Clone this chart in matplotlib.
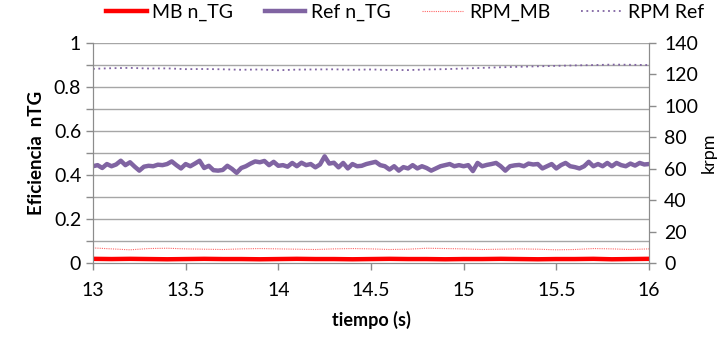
import numpy as np
import matplotlib
matplotlib.use("Agg")
import matplotlib.pyplot as plt
from matplotlib.ticker import MultipleLocator

plt.rcParams['font.family'] = ['Lato', 'DejaVu Sans']

# Ref n_TG, sampled every 0.025 s from 13 to 16 s
t_ref = [13 + i * 0.025 for i in range(121)]
ref_ntg = [0.440, 0.445, 0.432, 0.450, 0.440, 0.448, 0.465, 0.445, 0.458, 0.438,
           0.420, 0.438, 0.442, 0.440, 0.447, 0.445, 0.450, 0.462, 0.445, 0.430,
           0.450, 0.440, 0.452, 0.465, 0.432, 0.442, 0.422, 0.420, 0.423, 0.442,
           0.428, 0.410, 0.432, 0.440, 0.452, 0.462, 0.458, 0.464, 0.445, 0.460,
           0.442, 0.445, 0.438, 0.455, 0.440, 0.456, 0.445, 0.450, 0.435, 0.448,
           0.485, 0.452, 0.456, 0.435, 0.455, 0.430, 0.450, 0.440, 0.442, 0.450,
           0.455, 0.460, 0.445, 0.440, 0.425, 0.440, 0.420, 0.436, 0.430, 0.445,
           0.430, 0.440, 0.432, 0.420, 0.430, 0.440, 0.445, 0.450, 0.440, 0.445,
           0.440, 0.445, 0.418, 0.455, 0.440, 0.446, 0.450, 0.455, 0.440, 0.420,
           0.440, 0.444, 0.446, 0.440, 0.452, 0.448, 0.450, 0.430, 0.440, 0.450,
           0.430, 0.445, 0.455, 0.440, 0.436, 0.430, 0.440, 0.460, 0.440, 0.450,
           0.440, 0.455, 0.440, 0.455, 0.445, 0.440, 0.452, 0.443, 0.455, 0.448,
           0.450]

# Slower series, sampled every 0.1 s
t_slow = [13 + i * 0.1 for i in range(31)]
mb_ntg = [0.019, 0.018, 0.019, 0.018, 0.017, 0.018, 0.019, 0.018, 0.018, 0.017,
          0.018, 0.019, 0.018, 0.018, 0.017, 0.018, 0.019, 0.018, 0.018, 0.017,
          0.018, 0.018, 0.019, 0.018, 0.017, 0.018, 0.018, 0.019, 0.017, 0.018,
          0.019]
rpm_mb = [9.6, 9.0, 8.4, 9.2, 9.4, 9.0, 8.8, 8.6, 9.0, 9.2,
          9.0, 8.8, 8.6, 9.0, 9.2, 9.0, 8.6, 8.8, 9.4, 9.2,
          9.0, 8.6, 8.8, 9.0, 8.8, 8.4, 8.6, 9.2, 9.0, 8.6,
          9.0]
rpm_ref = [123.6, 124.0, 124.2, 123.8, 123.9, 123.4, 123.5, 123.3, 123.0, 123.2,
           122.7, 123.1, 123.2, 123.3, 123.0, 123.2, 122.9, 122.8, 123.2, 123.4,
           123.8, 124.2, 124.6, 124.9, 125.2, 125.5, 125.8, 126.0, 126.3, 126.2,
           126.0]

fig = plt.figure(figsize=(7.23, 3.41), dpi=100)
ax = fig.add_axes([0.1286, 0.2287, 0.769, 0.645])
ax2 = ax.twinx()

purple = '#8064a2'
ax.plot(t_slow, mb_ntg, color='#ff0000', lw=3.2, label='MB n_TG', zorder=3)
ax.plot(t_ref, ref_ntg, color=purple, lw=3.2, label='Ref n_TG', zorder=3)
ax2.plot(t_slow, rpm_mb, color='#ff6666', lw=0.8, ls=(0, (1, 1)), label='RPM_MB')
ax2.plot(t_slow, rpm_ref, color=purple, lw=1.3, ls=(0, (1, 2)), label='RPM Ref')

ax.set_xlim(13, 16)
ax.set_ylim(0, 1)
ax2.set_ylim(0, 140)
ax.yaxis.set_minor_locator(MultipleLocator(0.1))
ax2.yaxis.set_major_locator(MultipleLocator(20))
ax.set_xticks([13, 13.5, 14, 14.5, 15, 15.5, 16])
ax.set_xticklabels(['13', '13.5', '14', '14.5', '15', '15.5', '16'])
ax.set_yticks([0, 0.2, 0.4, 0.6, 0.8, 1.0])
ax.set_yticklabels(['0', '0.2', '0.4', '0.6', '0.8', '1'])

for y in np.arange(0.1, 1.01, 0.1):
    ax.axhline(y, color='#a6a6a6', lw=1.0, zorder=1)

for a in (ax, ax2):
    for s in a.spines.values():
        s.set_color('#8c8c8c')
    a.spines['top'].set_visible(False)
    a.tick_params(colors='#8c8c8c', labelcolor='black', labelsize=14,
                  direction='out', length=5, width=1, which='both')
ax.tick_params(axis='x', pad=9)
ax2.tick_params(axis='y', pad=6)

ax.set_xlabel('tiempo (s)', fontsize=13, fontweight='bold', labelpad=8)
ax.set_ylabel('Eficiencia  nTG', fontsize=13.5, fontweight='bold', labelpad=6)
ax2.set_ylabel('krpm', fontsize=13, labelpad=2)

h1, l1 = ax.get_legend_handles_labels()
h2, l2 = ax2.get_legend_handles_labels()
fig.legend(h1 + h2, l1 + l2, loc='upper center', bbox_to_anchor=(0.56, 1.04),
           ncol=4, frameon=False, fontsize=14, handlelength=2.1,
           columnspacing=1.6, handletextpad=0.3)

fig.savefig('out.png', dpi=100)
